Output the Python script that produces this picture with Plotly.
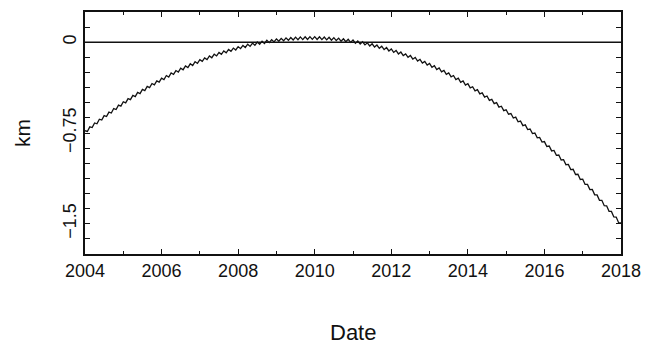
import plotly.graph_objects as go

# Sampling: every 1/16 year from 2004.0 to 2018.0
start_year = 2004.0
step_year = 1.0 / 16.0

# Values (km), short-period wiggle included
km_values = [
    -0.731, -0.737, -0.699, -0.705,
    -0.667, -0.674, -0.636, -0.643,
    -0.606, -0.614, -0.577, -0.585,
    -0.548, -0.556, -0.520, -0.528,
    -0.492, -0.501, -0.466, -0.474,
    -0.439, -0.449, -0.414, -0.424,
    -0.389, -0.399, -0.365, -0.375,
    -0.341, -0.352, -0.319, -0.329,
    -0.296, -0.308, -0.275, -0.287,
    -0.254, -0.266, -0.234, -0.246,
    -0.214, -0.227, -0.196, -0.209,
    -0.178, -0.192, -0.161, -0.175,
    -0.144, -0.158, -0.129, -0.143,
    -0.113, -0.128, -0.099, -0.113,
    -0.084, -0.100, -0.072, -0.087,
    -0.059, -0.075, -0.048, -0.064,
    -0.036, -0.053, -0.026, -0.043,
    -0.016, -0.034, -0.007, -0.025,
    0.002, -0.017, 0.009, -0.010,
    0.016, -0.003, 0.022, 0.003,
    0.028, 0.008, 0.032, 0.012,
    0.036, 0.016, 0.039, 0.019,
    0.042, 0.021, 0.044, 0.022,
    0.045, 0.023, 0.046, 0.024,
    0.046, 0.023, 0.045, 0.022,
    0.043, 0.020, 0.041, 0.017,
    0.038, 0.014, 0.034, 0.009,
    0.029, 0.004, 0.024, -0.001,
    0.018, -0.008, 0.011, -0.015,
    0.004, -0.022, -0.005, -0.031,
    -0.013, -0.040, -0.023, -0.050,
    -0.033, -0.061, -0.044, -0.072,
    -0.055, -0.084, -0.068, -0.097,
    -0.081, -0.110, -0.096, -0.125,
    -0.110, -0.140, -0.126, -0.155,
    -0.141, -0.172, -0.158, -0.189,
    -0.175, -0.207, -0.194, -0.226,
    -0.213, -0.245, -0.233, -0.265,
    -0.253, -0.286, -0.275, -0.308,
    -0.297, -0.331, -0.320, -0.354,
    -0.343, -0.377, -0.368, -0.402,
    -0.392, -0.427, -0.418, -0.453,
    -0.444, -0.480, -0.472, -0.507,
    -0.499, -0.536, -0.529, -0.565,
    -0.558, -0.595, -0.589, -0.626,
    -0.619, -0.657, -0.651, -0.689,
    -0.683, -0.722, -0.717, -0.755,
    -0.750, -0.790, -0.786, -0.825,
    -0.821, -0.861, -0.858, -0.898,
    -0.894, -0.935, -0.932, -0.973,
    -0.970, -1.012, -1.010, -1.052,
    -1.050, -1.093, -1.091, -1.134,
    -1.132, -1.175, -1.175, -1.218,
    -1.217, -1.261, -1.262, -1.306,
    -1.306, -1.351, -1.352, -1.397,
    -1.398, -1.444, -1.445, -1.491,
    -1.492,
]
dates = [start_year + i * step_year for i in range(len(km_values))]

x_tick_vals = [2004, 2006, 2008, 2010, 2012, 2014, 2016, 2018]
x_tick_text = ["2004", "2006", "2008", "2010", "2012", "2014", "2016", "2018"]
y_tick_vals = [0, -0.75, -1.5]
y_tick_text = ["0", "\u22120.75", "\u22121.5"]
reference_level = 0.0

FONT = "Liberation Sans"
INK = "#111111"

fig = go.Figure()
fig.add_trace(go.Scatter(
    x=dates, y=km_values, mode="lines",
    line=dict(color=INK, width=1.3),
    showlegend=False, hoverinfo="skip",
))
fig.add_shape(type="line", xref="paper", x0=0, x1=1, yref="y",
              y0=reference_level, y1=reference_level,
              line=dict(color=INK, width=1.3))

fig.update_layout(
    width=651, height=345,
    margin=dict(l=85, r=23, t=10, b=91),
    paper_bgcolor="white", plot_bgcolor="white",
    font=dict(family=FONT, color=INK, size=18),
    xaxis=dict(
        range=[2004, 2018], tickmode="array", tickvals=x_tick_vals, ticktext=x_tick_text,
        ticks="inside", ticklen=5, tickwidth=1, tickcolor=INK,
        minor=dict(tickmode="linear", tick0=2004, dtick=1, ticks="inside", ticklen=3,
                   tickcolor=INK, showgrid=False),
        showline=True, linecolor=INK, linewidth=1.5, mirror="ticks",
        showgrid=False, zeroline=False, tickfont=dict(size=18),
    ),
    yaxis=dict(
        range=[-1.75, 0.25], tickmode="array", tickvals=y_tick_vals, ticktext=y_tick_text,
        ticks="inside", ticklen=5, tickwidth=1, tickcolor=INK, tickangle=-90,
        minor=dict(tickmode="linear", tick0=0, dtick=0.125, ticks="inside", ticklen=5,
                   tickcolor=INK, showgrid=False),
        showline=True, linecolor=INK, linewidth=1.5, mirror="ticks",
        showgrid=False, zeroline=False, tickfont=dict(size=18),
    ),
    annotations=[
        dict(text="Date", xref="paper", x=0.5, yref="paper", y=0, yanchor="middle",
             yshift=-78, showarrow=False, font=dict(size=22, family=FONT, color=INK)),
        dict(text="km", xref="paper", x=0, xanchor="center", xshift=-63,
             yref="paper", y=0.5, textangle=-90, showarrow=False,
             font=dict(size=21, family=FONT, color=INK)),
    ],
)

fig.write_html("out.html")
